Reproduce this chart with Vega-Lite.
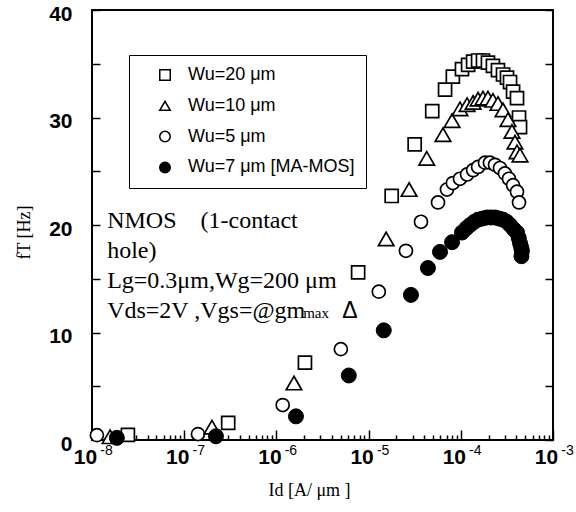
{
  "$schema": "https://vega.github.io/schema/vega-lite/v6.json",
  "width": 461,
  "height": 430,
  "autosize": "none",
  "padding": {"left": 92, "top": 10, "right": 23, "bottom": 72},
  "background": "white",
  "data": {
    "values": [
      {"series": "Wu=20 μm", "Id": 2.45e-8, "fT": 0.47},
      {"series": "Wu=20 μm", "Id": 3.0e-7, "fT": 1.6},
      {"series": "Wu=20 μm", "Id": 2.04e-6, "fT": 7.2},
      {"series": "Wu=20 μm", "Id": 7.7e-6, "fT": 15.6},
      {"series": "Wu=20 μm", "Id": 1.78e-5, "fT": 22.7},
      {"series": "Wu=20 μm", "Id": 3.16e-5, "fT": 27.5},
      {"series": "Wu=20 μm", "Id": 4.9e-5, "fT": 30.6},
      {"series": "Wu=20 μm", "Id": 6.75e-5, "fT": 32.6},
      {"series": "Wu=20 μm", "Id": 8.2e-5, "fT": 33.8},
      {"series": "Wu=20 μm", "Id": 1.03e-4, "fT": 34.5},
      {"series": "Wu=20 μm", "Id": 1.2e-4, "fT": 34.9},
      {"series": "Wu=20 μm", "Id": 1.36e-4, "fT": 35.2},
      {"series": "Wu=20 μm", "Id": 1.54e-4, "fT": 35.3},
      {"series": "Wu=20 μm", "Id": 1.74e-4, "fT": 35.3},
      {"series": "Wu=20 μm", "Id": 1.97e-4, "fT": 35.1},
      {"series": "Wu=20 μm", "Id": 2.23e-4, "fT": 34.8},
      {"series": "Wu=20 μm", "Id": 2.53e-4, "fT": 34.4},
      {"series": "Wu=20 μm", "Id": 2.87e-4, "fT": 34.0},
      {"series": "Wu=20 μm", "Id": 3.17e-4, "fT": 33.7},
      {"series": "Wu=20 μm", "Id": 3.42e-4, "fT": 33.3},
      {"series": "Wu=20 μm", "Id": 3.69e-4, "fT": 32.4},
      {"series": "Wu=20 μm", "Id": 4.07e-4, "fT": 31.8},
      {"series": "Wu=20 μm", "Id": 4.28e-4, "fT": 30.0},
      {"series": "Wu=20 μm", "Id": 4.39e-4, "fT": 29.1},
      {"series": "Wu=10 μm", "Id": 1.57e-8, "fT": 0.3},
      {"series": "Wu=10 μm", "Id": 2.0e-7, "fT": 1.2},
      {"series": "Wu=10 μm", "Id": 1.55e-6, "fT": 5.3},
      {"series": "Wu=10 μm", "Id": 1.55e-5, "fT": 18.7},
      {"series": "Wu=10 μm", "Id": 2.75e-5, "fT": 23.3},
      {"series": "Wu=10 μm", "Id": 4.27e-5, "fT": 26.2},
      {"series": "Wu=10 μm", "Id": 6.41e-5, "fT": 28.4},
      {"series": "Wu=10 μm", "Id": 8.04e-5, "fT": 29.7},
      {"series": "Wu=10 μm", "Id": 9.8e-5, "fT": 30.8},
      {"series": "Wu=10 μm", "Id": 1.17e-4, "fT": 31.2},
      {"series": "Wu=10 μm", "Id": 1.36e-4, "fT": 31.4},
      {"series": "Wu=10 μm", "Id": 1.54e-4, "fT": 31.7},
      {"series": "Wu=10 μm", "Id": 1.74e-4, "fT": 31.8},
      {"series": "Wu=10 μm", "Id": 1.97e-4, "fT": 31.8},
      {"series": "Wu=10 μm", "Id": 2.23e-4, "fT": 31.6},
      {"series": "Wu=10 μm", "Id": 2.53e-4, "fT": 31.3},
      {"series": "Wu=10 μm", "Id": 2.87e-4, "fT": 30.7},
      {"series": "Wu=10 μm", "Id": 3.25e-4, "fT": 29.8},
      {"series": "Wu=10 μm", "Id": 3.59e-4, "fT": 28.7},
      {"series": "Wu=10 μm", "Id": 3.87e-4, "fT": 27.7},
      {"series": "Wu=10 μm", "Id": 4.07e-4, "fT": 26.8},
      {"series": "Wu=10 μm", "Id": 4.39e-4, "fT": 26.5},
      {"series": "Wu=5 μm", "Id": 1.13e-8, "fT": 0.45},
      {"series": "Wu=5 μm", "Id": 1.41e-7, "fT": 0.55},
      {"series": "Wu=5 μm", "Id": 1.17e-6, "fT": 3.25},
      {"series": "Wu=5 μm", "Id": 5.0e-6, "fT": 8.45},
      {"series": "Wu=5 μm", "Id": 1.29e-5, "fT": 13.8},
      {"series": "Wu=5 μm", "Id": 2.54e-5, "fT": 17.6},
      {"series": "Wu=5 μm", "Id": 3.7e-5, "fT": 20.3},
      {"series": "Wu=5 μm", "Id": 5.66e-5, "fT": 22.1},
      {"series": "Wu=5 μm", "Id": 7.08e-5, "fT": 23.3},
      {"series": "Wu=5 μm", "Id": 8.2e-5, "fT": 23.9},
      {"series": "Wu=5 μm", "Id": 9.8e-5, "fT": 24.3},
      {"series": "Wu=5 μm", "Id": 1.17e-4, "fT": 24.7},
      {"series": "Wu=5 μm", "Id": 1.36e-4, "fT": 25.1},
      {"series": "Wu=5 μm", "Id": 1.54e-4, "fT": 25.4},
      {"series": "Wu=5 μm", "Id": 1.83e-4, "fT": 25.8},
      {"series": "Wu=5 μm", "Id": 2.07e-4, "fT": 25.8},
      {"series": "Wu=5 μm", "Id": 2.35e-4, "fT": 25.6},
      {"series": "Wu=5 μm", "Id": 2.66e-4, "fT": 25.3},
      {"series": "Wu=5 μm", "Id": 3.01e-4, "fT": 24.8},
      {"series": "Wu=5 μm", "Id": 3.33e-4, "fT": 24.3},
      {"series": "Wu=5 μm", "Id": 3.69e-4, "fT": 23.7},
      {"series": "Wu=5 μm", "Id": 4.07e-4, "fT": 23.1},
      {"series": "Wu=5 μm", "Id": 4.28e-4, "fT": 22.1},
      {"series": "Wu=7 μm [MA-MOS]", "Id": 1.86e-8, "fT": 0.2},
      {"series": "Wu=7 μm [MA-MOS]", "Id": 2.21e-7, "fT": 0.35},
      {"series": "Wu=7 μm [MA-MOS]", "Id": 1.63e-6, "fT": 2.2},
      {"series": "Wu=7 μm [MA-MOS]", "Id": 6.1e-6, "fT": 6.0},
      {"series": "Wu=7 μm [MA-MOS]", "Id": 1.46e-5, "fT": 10.2},
      {"series": "Wu=7 μm [MA-MOS]", "Id": 2.88e-5, "fT": 13.5},
      {"series": "Wu=7 μm [MA-MOS]", "Id": 4.4e-5, "fT": 16.0},
      {"series": "Wu=7 μm [MA-MOS]", "Id": 5.95e-5, "fT": 17.5},
      {"series": "Wu=7 μm [MA-MOS]", "Id": 8.04e-5, "fT": 18.4},
      {"series": "Wu=7 μm [MA-MOS]", "Id": 1.03e-4, "fT": 19.3},
      {"series": "Wu=7 μm [MA-MOS]", "Id": 1.15e-4, "fT": 19.7},
      {"series": "Wu=7 μm [MA-MOS]", "Id": 1.26e-4, "fT": 20.0},
      {"series": "Wu=7 μm [MA-MOS]", "Id": 1.4e-4, "fT": 20.3},
      {"series": "Wu=7 μm [MA-MOS]", "Id": 1.54e-4, "fT": 20.5},
      {"series": "Wu=7 μm [MA-MOS]", "Id": 1.72e-4, "fT": 20.6},
      {"series": "Wu=7 μm [MA-MOS]", "Id": 1.92e-4, "fT": 20.7},
      {"series": "Wu=7 μm [MA-MOS]", "Id": 2.12e-4, "fT": 20.7},
      {"series": "Wu=7 μm [MA-MOS]", "Id": 2.35e-4, "fT": 20.7},
      {"series": "Wu=7 μm [MA-MOS]", "Id": 2.6e-4, "fT": 20.6},
      {"series": "Wu=7 μm [MA-MOS]", "Id": 2.87e-4, "fT": 20.5},
      {"series": "Wu=7 μm [MA-MOS]", "Id": 3.15e-4, "fT": 20.3},
      {"series": "Wu=7 μm [MA-MOS]", "Id": 3.42e-4, "fT": 20.0},
      {"series": "Wu=7 μm [MA-MOS]", "Id": 3.75e-4, "fT": 19.6},
      {"series": "Wu=7 μm [MA-MOS]", "Id": 4.07e-4, "fT": 19.3},
      {"series": "Wu=7 μm [MA-MOS]", "Id": 4.25e-4, "fT": 18.8},
      {"series": "Wu=7 μm [MA-MOS]", "Id": 4.39e-4, "fT": 18.3},
      {"series": "Wu=7 μm [MA-MOS]", "Id": 4.52e-4, "fT": 17.9},
      {"series": "Wu=7 μm [MA-MOS]", "Id": 4.6e-4, "fT": 17.6},
      {"series": "Wu=7 μm [MA-MOS]", "Id": 4.55e-4, "fT": 17.1}
    ]
  },
  "layer": [
    {
      "transform": [{"filter": "datum.series === 'Wu=20 μm' || datum.series === 'Wu=5 μm'"}],
      "mark": {"type": "point", "filled": true, "strokeWidth": 1.7, "opacity": 1, "size": 170},
      "encoding": {
        "x": {
          "field": "Id", "type": "quantitative",
          "scale": {"type": "log", "domain": [1e-8, 1e-3]},
          "axis": {
            "orient": "bottom",
            "values": [1e-8, 1e-7, 1e-6, 1e-5, 1e-4, 1e-3],
            "labelExpr": "'10'",
            "tickSize": -10, "tickWidth": 1.5, "tickColor": "black",
            "labelPadding": 16, "labelOffset": -7,
            "labelFontSize": 21, "labelFont": "Liberation Sans", "labelFontWeight": "bold", "labelColor": "black",
            "labelFlush": false, "labelOverlap": false, "labelBound": false,
            "domain": false, "grid": false,
            "title": "Id  [A/ μm  ]",
            "titleFont": "Liberation Serif", "titleFontSize": 18, "titleFontWeight": "normal", "titleColor": "black",
            "titleX": 217, "titleY": 55, "titleBaseline": "alphabetic", "titleAlign": "center"
          }
        },
        "y": {
          "field": "fT", "type": "quantitative",
          "scale": {"domain": [0, 40]},
          "axis": {
            "orient": "left",
            "values": [0, 5, 10, 15, 20, 25, 30, 35, 40],
            "labelExpr": "datum.value % 10 === 0 ? datum.label : ''",
            "tickSize": -8, "tickWidth": 1.5, "tickColor": "black",
            "labelPadding": 28, "labelOffset": 4, "labelBaseline": "middle",
            "labelFontSize": 21, "labelFont": "Liberation Sans", "labelFontWeight": "bold", "labelColor": "black",
            "labelFlush": false, "labelOverlap": false, "labelBound": false,
            "domain": false, "grid": false,
            "title": "fT  [Hz]",
            "titleFont": "Liberation Serif", "titleFontSize": 18, "titleFontWeight": "normal", "titleColor": "black",
            "titleX": -68, "titleY": 222, "titleAngle": -90, "titleAlign": "center", "titleBaseline": "middle"
          }
        },
        "shape": {
          "field": "series", "type": "nominal",
          "scale": {"domain": ["Wu=20 μm", "Wu=10 μm", "Wu=5 μm", "Wu=7 μm [MA-MOS]"], "range": ["square", "triangle-up", "circle", "circle"]},
          "legend": {
            "title": null, "orient": "none", "legendX": 37, "legendY": 45,
            "strokeColor": "black", "fillColor": "white",
            "padding": 11, "symbolOffset": 16, "labelOffset": 14, "rowPadding": 12.8,
            "symbolSize": 110, "symbolStrokeWidth": 1.5,
            "labelFont": "Liberation Sans", "labelFontSize": 18, "labelColor": "black", "labelLimit": 300,
            "encode": {"legend": {"update": {"strokeWidth": {"value": 2.5}}}}
          }
        },
        "fill": {
          "field": "series", "type": "nominal",
          "scale": {"domain": ["Wu=20 μm", "Wu=10 μm", "Wu=5 μm", "Wu=7 μm [MA-MOS]"], "range": ["white", "white", "white", "black"]},
          "legend": {
            "title": null, "orient": "none", "legendX": 37, "legendY": 45,
            "strokeColor": "black", "fillColor": "white",
            "padding": 11, "symbolOffset": 16, "labelOffset": 14, "rowPadding": 12.8,
            "symbolSize": 110, "symbolStrokeWidth": 1.5,
            "labelFont": "Liberation Sans", "labelFontSize": 18, "labelColor": "black", "labelLimit": 300,
            "encode": {"legend": {"update": {"strokeWidth": {"value": 2.5}}}}
          }
        },
        "stroke": {
          "field": "series", "type": "nominal",
          "scale": {"domain": ["Wu=20 μm", "Wu=10 μm", "Wu=5 μm", "Wu=7 μm [MA-MOS]"], "range": ["black", "black", "black", "black"]},
          "legend": {
            "title": null, "orient": "none", "legendX": 37, "legendY": 45,
            "strokeColor": "black", "fillColor": "white",
            "padding": 11, "symbolOffset": 16, "labelOffset": 14, "rowPadding": 12.8,
            "symbolSize": 110, "symbolStrokeWidth": 1.5,
            "labelFont": "Liberation Sans", "labelFontSize": 18, "labelColor": "black", "labelLimit": 300,
            "encode": {"legend": {"update": {"strokeWidth": {"value": 2.5}}}}
          }
        }
      }
    },
    {
      "transform": [{"filter": "datum.series === 'Wu=10 μm'"}],
      "mark": {"type": "point", "filled": true, "strokeWidth": 1.7, "opacity": 1, "size": 240},
      "encoding": {
        "x": {"field": "Id", "type": "quantitative", "axis": null},
        "y": {"field": "fT", "type": "quantitative", "axis": null},
        "shape": {"field": "series", "type": "nominal"},
        "fill": {"field": "series", "type": "nominal"},
        "stroke": {"field": "series", "type": "nominal"}
      }
    },
    {
      "transform": [{"filter": "datum.series === 'Wu=7 μm [MA-MOS]'"}],
      "mark": {"type": "point", "filled": true, "strokeWidth": 1, "opacity": 1, "size": 225},
      "encoding": {
        "x": {"field": "Id", "type": "quantitative", "axis": null},
        "y": {"field": "fT", "type": "quantitative", "axis": null},
        "shape": {"field": "series", "type": "nominal"},
        "fill": {"field": "series", "type": "nominal"},
        "stroke": {"field": "series", "type": "nominal"}
      }
    },
    {
      "mark": {"type": "point", "opacity": 0},
      "encoding": {
        "x": {
          "field": "Id", "type": "quantitative",
          "axis": {
            "orient": "bottom",
            "values": [2e-8, 3e-8, 4e-8, 5e-8, 6e-8, 7e-8, 8e-8, 9e-8, 2e-7, 3e-7, 4e-7, 5e-7, 6e-7, 7e-7, 8e-7, 9e-7, 2e-6, 3e-6, 4e-6, 5e-6, 6e-6, 7e-6, 8e-6, 9e-6, 2e-5, 3e-5, 4e-5, 5e-5, 6e-5, 7e-5, 8e-5, 9e-5, 2e-4, 3e-4, 4e-4, 5e-4, 6e-4, 7e-4, 8e-4, 9e-4],
            "labels": false, "tickSize": -5, "tickWidth": 1.5, "tickColor": "black",
            "domain": false, "grid": false, "title": null
          }
        },
        "y": {
          "field": "fT", "type": "quantitative",
          "axis": {
            "orient": "right",
            "values": [0, 5, 10, 15, 20, 25, 30, 35, 40],
            "labels": false, "tickSize": -8, "tickWidth": 1.5, "tickColor": "black",
            "domain": false, "grid": false, "title": null
          }
        }
      }
    },
    {
      "mark": {"type": "point", "opacity": 0},
      "encoding": {
        "x": {
          "field": "Id", "type": "quantitative",
          "axis": {
            "orient": "bottom",
            "values": [1e-8, 1e-7, 1e-6, 1e-5, 1e-4, 1e-3],
            "labelExpr": "'' + round(log(datum.value) / LN10)",
            "ticks": false, "tickSize": 0,
            "labelPadding": 3, "labelOffset": 14,
            "labelFontSize": 14, "labelFont": "Liberation Sans", "labelColor": "black",
            "labelFlush": false, "labelOverlap": false, "labelBound": false,
            "domain": false, "grid": false, "title": null
          }
        },
        "y": {"field": "fT", "type": "quantitative", "axis": null}
      }
    },
    {
      "data": {"values": [{}]},
      "mark": {
        "type": "text",
        "text": ["NMOS\u00a0\u00a0\u00a0\u00a0(1-contact", "hole)", "Lg=0.3μm,Wg=200 μm", "Vds=2V ,Vgs=@gm"],
        "font": "Liberation Serif", "fontSize": 24, "lineHeight": 30,
        "align": "left", "baseline": "alphabetic", "color": "black"
      },
      "encoding": {
        "x": {"datum": 1.46e-8, "type": "quantitative", "axis": null},
        "y": {"datum": 19.72, "type": "quantitative", "axis": null}
      }
    },
    {
      "data": {"values": [{}]},
      "mark": {
        "type": "text", "text": "max",
        "font": "Liberation Serif", "fontSize": 15,
        "align": "left", "baseline": "alphabetic", "color": "black", "dx": 196
      },
      "encoding": {
        "x": {"datum": 1.46e-8, "type": "quantitative", "axis": null},
        "y": {"datum": 11.35, "type": "quantitative", "axis": null}
      }
    },
    {
      "data": {"values": [{}]},
      "mark": {
        "type": "text", "text": "Δ",
        "font": "Liberation Sans", "fontSize": 23,
        "align": "left", "baseline": "alphabetic", "color": "black", "dx": 235
      },
      "encoding": {
        "x": {"datum": 1.46e-8, "type": "quantitative", "axis": null},
        "y": {"datum": 11.35, "type": "quantitative", "axis": null}
      }
    }
  ],
  "resolve": {"axis": {"x": "independent", "y": "independent"}},
  "config": {
    "view": {"stroke": "black", "strokeWidth": 2}
  }
}
